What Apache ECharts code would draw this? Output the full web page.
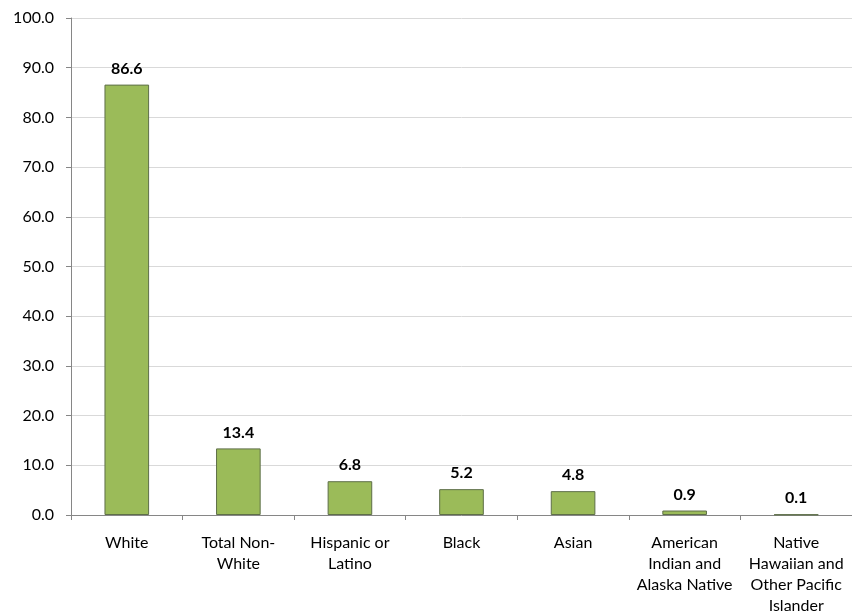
<!DOCTYPE html>
<html><head><meta charset="utf-8">
<script src="https://cdn.jsdelivr.net/npm/echarts@6/dist/echarts.min.js"></script>
<style>html,body{margin:0;padding:0;background:#fff}#c{width:852px;height:616px}</style>
</head><body><div id="c"></div>
<script>
const categories = ["White", "Total Non-\nWhite", "Hispanic or\nLatino", "Black", "Asian", "American\nIndian and\nAlaska Native", "Native\nHawaiian and\nOther Pacific\nIslander"];
const values = [86.6, 13.4, 6.8, 5.2, 4.8, 0.9, 0.1];
const yTicks = {min: 0, max: 100, interval: 10};

const chart = echarts.init(document.getElementById('c'), null, {renderer: 'canvas'});
const font = 'Lato, "Open Sans", "Liberation Sans", sans-serif';
chart.setOption({
  animation: false,
  grid: {left: 71, top: 18, width: 787, height: 499, containLabel: false},
  xAxis: {
    type: 'category', data: categories,
    axisLine: {lineStyle: {color: '#868686', width: 1}},
    axisTick: {show: true, length: 5, lineStyle: {color: '#868686'}, alignWithLabel: false},
    axisLabel: {color: '#000', fontFamily: font, fontSize: 16, lineHeight: 21, margin: 17, interval: 0}
  },
  yAxis: {
    type: 'value', min: yTicks.min, max: yTicks.max, interval: yTicks.interval,
    axisLine: {show: true, lineStyle: {color: '#868686', width: 1}},
    axisTick: {show: true, length: 5, lineStyle: {color: '#868686'}},
    splitLine: {lineStyle: {color: '#d9d9d9', width: 1}},
    axisLabel: {color: '#000', fontFamily: font, fontSize: 16, margin: 17,
      formatter: v => v.toFixed(1)}
  },
  series: [{
    type: 'bar', data: values, barWidth: '40%',
    itemStyle: {color: '#9bbb59', borderColor: '#5e6f48', borderWidth: 1},
    label: {show: true, position: 'top', distance: 8, color: '#000', fontFamily: font,
      fontSize: 16, fontWeight: 'bold', formatter: p => p.value.toFixed(1)}
  }]
});
</script></body></html>
